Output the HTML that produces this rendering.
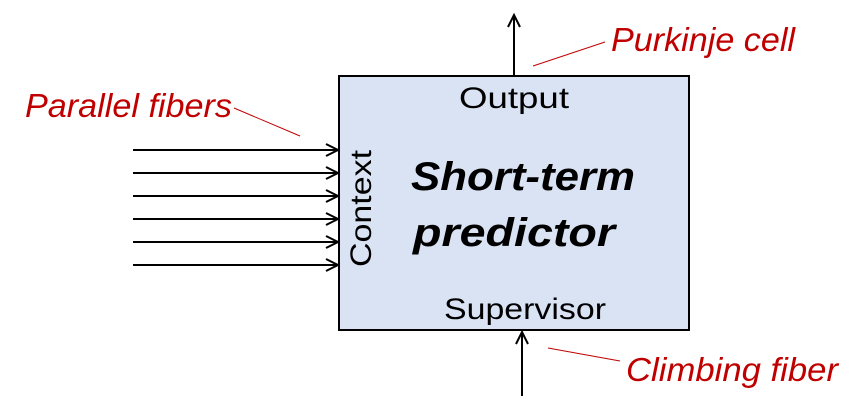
<!DOCTYPE html>
<html><head><meta charset="utf-8"><style>html,body{margin:0;padding:0;background:#fff}svg{display:block}</style></head>
<body>
<svg width="865" height="413" viewBox="0 0 865 413" xmlns="http://www.w3.org/2000/svg" font-family="Liberation Sans, sans-serif">
<rect x="339" y="76" width="350" height="254" fill="#dae3f3" stroke="#000" stroke-width="2"/>
<g stroke="#000" stroke-width="2" fill="none">
<line x1="133" y1="150" x2="338" y2="150"/><polyline points="326,144 338,150 326,156"/>
<line x1="133" y1="173" x2="338" y2="173"/><polyline points="326,167 338,173 326,179"/>
<line x1="133" y1="196" x2="338" y2="196"/><polyline points="326,190 338,196 326,202"/>
<line x1="133" y1="219" x2="338" y2="219"/><polyline points="326,213 338,219 326,225"/>
<line x1="133" y1="242" x2="338" y2="242"/><polyline points="326,236 338,242 326,248"/>
<line x1="133" y1="265" x2="338" y2="265"/><polyline points="326,259 338,265 326,271"/>
<line x1="514" y1="75" x2="514" y2="15"/><polyline points="508,27 514,15 520,27"/>
<line x1="522" y1="396" x2="522" y2="332"/><polyline points="516,344 522,332 528,344"/>
</g>
<g stroke="#c00000" stroke-width="1">
<line x1="234" y1="108" x2="300" y2="136"/>
<line x1="605" y1="42" x2="533" y2="66"/>
<line x1="620" y1="361" x2="548" y2="348"/>
</g>
<g fill="#c00000" font-style="italic" font-size="33">
<text x="25" y="117" textLength="207" lengthAdjust="spacingAndGlyphs">Parallel fibers</text>
<text x="611" y="51" textLength="184" lengthAdjust="spacingAndGlyphs">Purkinje cell</text>
<text x="626" y="381" textLength="212" lengthAdjust="spacingAndGlyphs">Climbing fiber</text>
</g>
<g fill="#000" font-size="30">
<text x="459" y="108" textLength="110" lengthAdjust="spacingAndGlyphs">Output</text>
<text x="444" y="319" textLength="162" lengthAdjust="spacingAndGlyphs">Supervisor</text>
<text transform="translate(371,267) rotate(-90)" textLength="117" lengthAdjust="spacingAndGlyphs">Context</text>
</g>
<g fill="#000" font-size="40" font-weight="bold" font-style="italic" text-anchor="middle">
<text x="523" y="190" textLength="224" lengthAdjust="spacingAndGlyphs">Short-term</text>
<text x="514" y="246" textLength="202" lengthAdjust="spacingAndGlyphs">predictor</text>
</g>
</svg>
</body></html>
